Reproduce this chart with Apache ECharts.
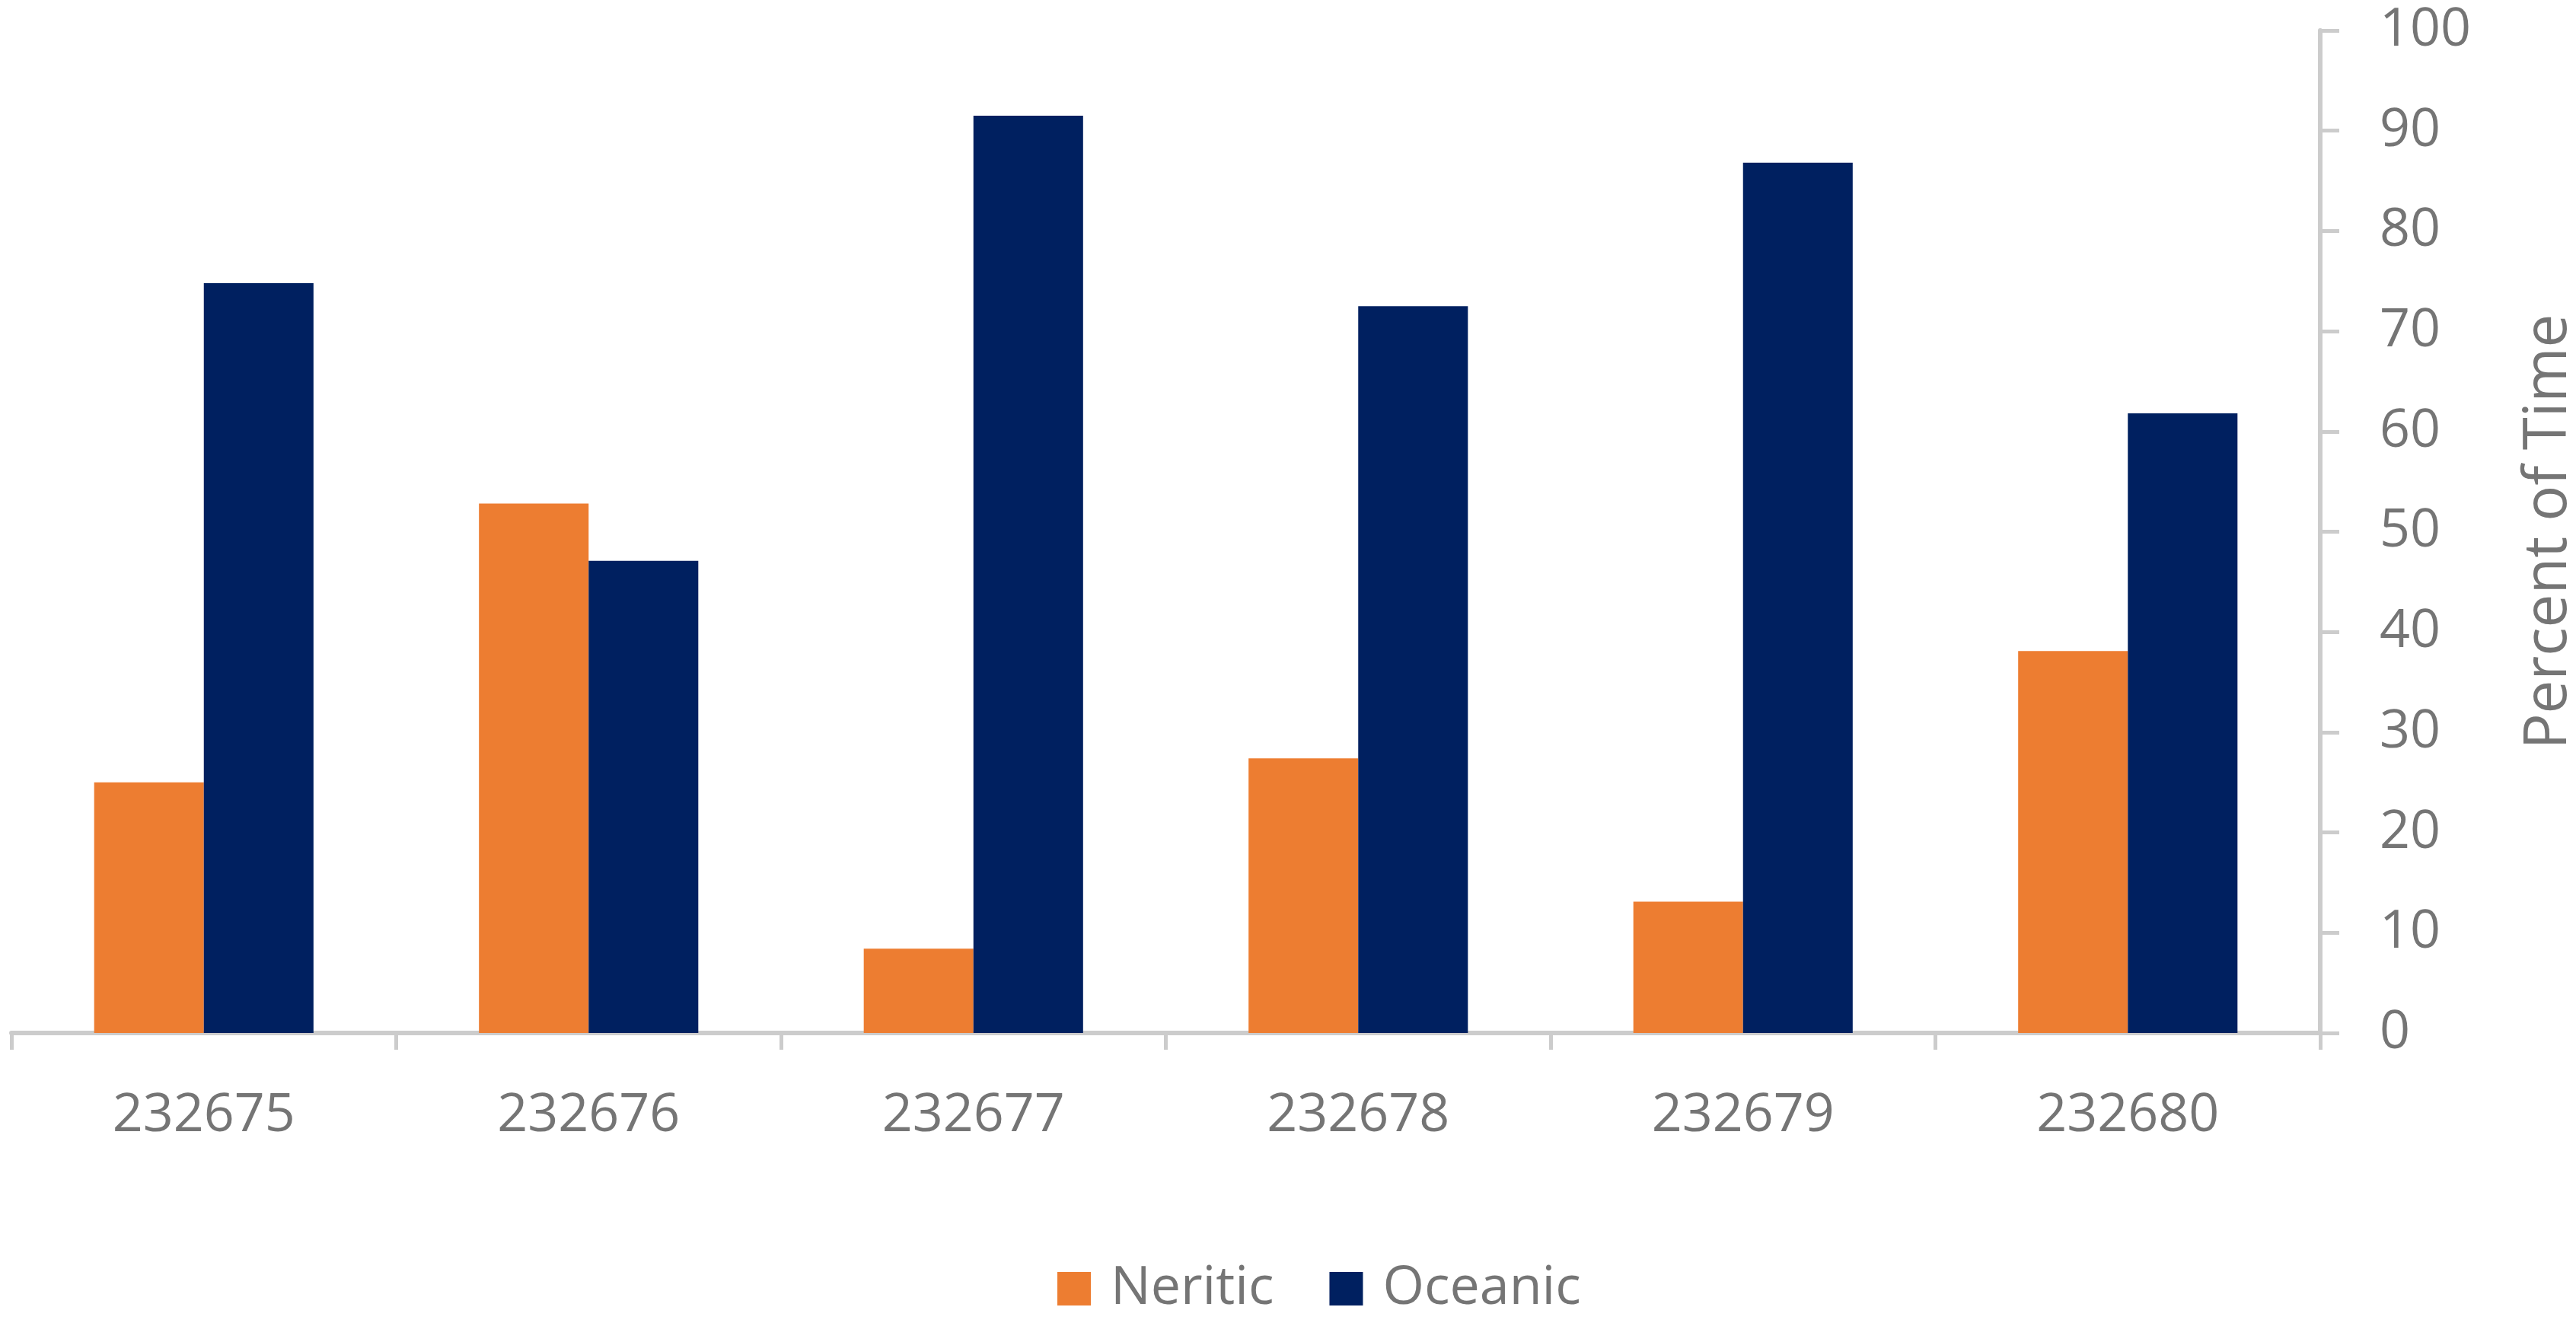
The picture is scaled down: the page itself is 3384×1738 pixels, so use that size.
<!DOCTYPE html>
<html>
<head>
<meta charset="utf-8">
<script src="https://cdn.jsdelivr.net/npm/echarts@6/dist/echarts.min.js"></script>
<style>
  html, body { margin: 0; padding: 0; background: #ffffff; }
  #chart { width: 3384px; height: 1738px; }
</style>
</head>
<body>
<div id="chart"></div>
<script>
const categories = ['232675', '232676', '232677', '232678', '232679', '232680'];
const neritic = [25.0, 52.8, 8.4, 27.4, 13.1, 38.1];
const oceanic = [74.8, 47.1, 91.5, 72.5, 86.8, 61.8];
const seriesNames = ['Neritic', 'Oceanic'];
const yAxisTitle = 'Percent of Time';

const textColor = '#757575';
const axisColor = '#CCCCCC';
const fontFamily = '"Open Sans", "Noto Sans", sans-serif';

const chart = echarts.init(document.getElementById('chart'), null, { renderer: 'canvas' });
chart.setOption({
  animation: false,
  backgroundColor: '#ffffff',
  grid: { left: 15, right: 336, top: 40, bottom: 381, containLabel: false, outerBoundsMode: 'none' },
  legend: {
    data: seriesNames,
    left: 1384,
    top: 1653,
    itemWidth: 44,
    itemHeight: 44,
    itemGap: 73,
    icon: 'rect',
    textStyle: { color: textColor, fontSize: 70, fontFamily: fontFamily, padding: [0, 0, 0, 21] }
  },
  xAxis: {
    type: 'category',
    data: categories,
    axisLine: { show: true, lineStyle: { color: axisColor, width: 6 } },
    axisTick: { show: true, length: 22, interval: 0, lineStyle: { color: axisColor, width: 5 } },
    axisLabel: { color: textColor, fontSize: 70, fontFamily: fontFamily, margin: 74, interval: 0 },
    splitLine: { show: false }
  },
  yAxis: {
    type: 'value',
    position: 'right',
    min: 0,
    max: 100,
    interval: 10,
    name: yAxisTitle,
    nameLocation: 'middle',
    nameRotate: 90,
    nameGap: 262,
    nameTextStyle: { color: textColor, fontSize: 78, fontFamily: fontFamily },
    axisLine: { show: true, lineStyle: { color: axisColor, width: 6 } },
    axisTick: { show: true, length: 25, lineStyle: { color: axisColor, width: 5 } },
    axisLabel: { color: textColor, fontSize: 70, fontFamily: fontFamily, margin: 78, align: 'left' },
    splitLine: { show: false }
  },
  series: [
    {
      name: seriesNames[0],
      type: 'bar',
      data: neritic,
      barGap: '0%',
      barCategoryGap: '43%',
      itemStyle: { color: '#ED7D31' }
    },
    {
      name: seriesNames[1],
      type: 'bar',
      data: oceanic,
      barGap: '0%',
      barCategoryGap: '43%',
      itemStyle: { color: '#002060' }
    }
  ]
});
</script>
</body>
</html>
